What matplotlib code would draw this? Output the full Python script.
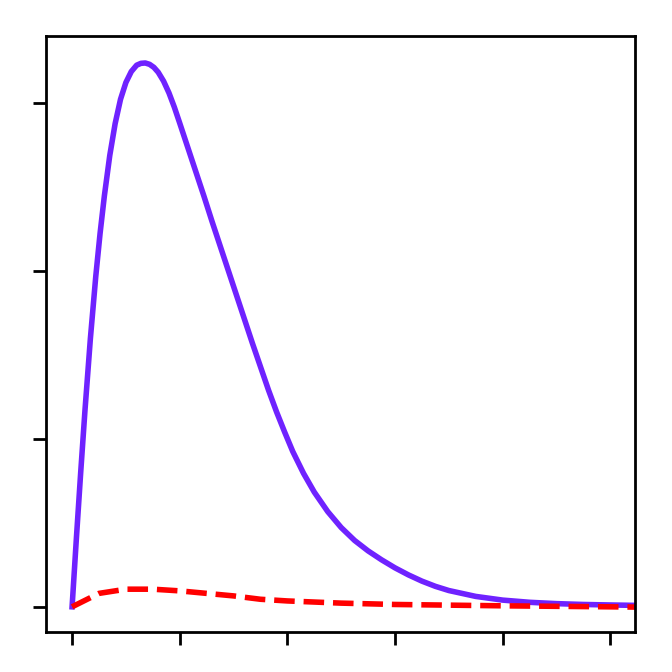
import matplotlib
matplotlib.use('Agg')
import matplotlib.pyplot as plt

# Curve samples (x in tick units, no labels shown)
purple_t = [0, 0.04, 0.08, 0.12, 0.17, 0.22, 0.26, 0.30, 0.35, 0.40, 0.45, 0.50, 0.55,
            0.60, 0.64, 0.68, 0.72, 0.76, 0.80, 0.85, 0.90, 0.95, 1.0, 1.075, 1.15,
            1.225, 1.3, 1.375, 1.45, 1.525, 1.6, 1.675, 1.75, 1.825, 1.9, 1.975, 2.05,
            2.15, 2.25, 2.375, 2.5, 2.625, 2.75, 2.875, 3.0, 3.125, 3.25, 3.375, 3.5,
            3.75, 4.0, 4.25, 4.5, 4.75, 5.0, 5.3]
purple_v = [0, 0.408, 0.80, 1.172, 1.597, 1.967, 2.223, 2.447, 2.687, 2.877, 3.022, 3.122,
            3.187, 3.225, 3.236, 3.238, 3.23, 3.212, 3.183, 3.13, 3.06, 2.975, 2.88, 2.735,
            2.59, 2.445, 2.295, 2.15, 2.005, 1.86, 1.715, 1.57, 1.43, 1.29, 1.16, 1.04,
            0.925, 0.795, 0.683, 0.567, 0.472, 0.395, 0.333, 0.28, 0.232, 0.19, 0.153,
            0.122, 0.097, 0.062, 0.04, 0.027, 0.019, 0.014, 0.011, 0.008]

red_t = [0, 0.25, 0.5, 0.75, 1.0, 1.25, 1.5, 1.75, 2.0, 2.5, 3.0, 3.5, 4.0, 4.5, 5.0, 5.3]
red_v = [0, 0.08, 0.105, 0.105, 0.095, 0.08, 0.065, 0.045, 0.035, 0.022, 0.014, 0.01,
         0.006, 0.003, 0.0, -0.002]

x_ticks = [0, 1, 2, 3, 4, 5]
y_ticks = [0, 1, 2, 3]

fig = plt.figure(figsize=(3.36, 3.36), dpi=200)
ax = fig.add_axes([0.0685, 0.0595, 0.8765, 0.8865])

ax.plot(purple_t, purple_v, color='#6f22ff', linewidth=2.0)
ax.plot(red_t, red_v, color='#ff0000', linewidth=2.0, linestyle='--')

ax.set_xlim(-0.242, 5.23)
ax.set_ylim(-0.15, 3.397)
ax.set_xticks(x_ticks)
ax.set_yticks(y_ticks)
ax.set_xticklabels([])
ax.set_yticklabels([])
ax.tick_params(length=4.6, width=1.0)
for spine in ax.spines.values():
    spine.set_linewidth(1.0)

fig.savefig('out.png', dpi=200)
